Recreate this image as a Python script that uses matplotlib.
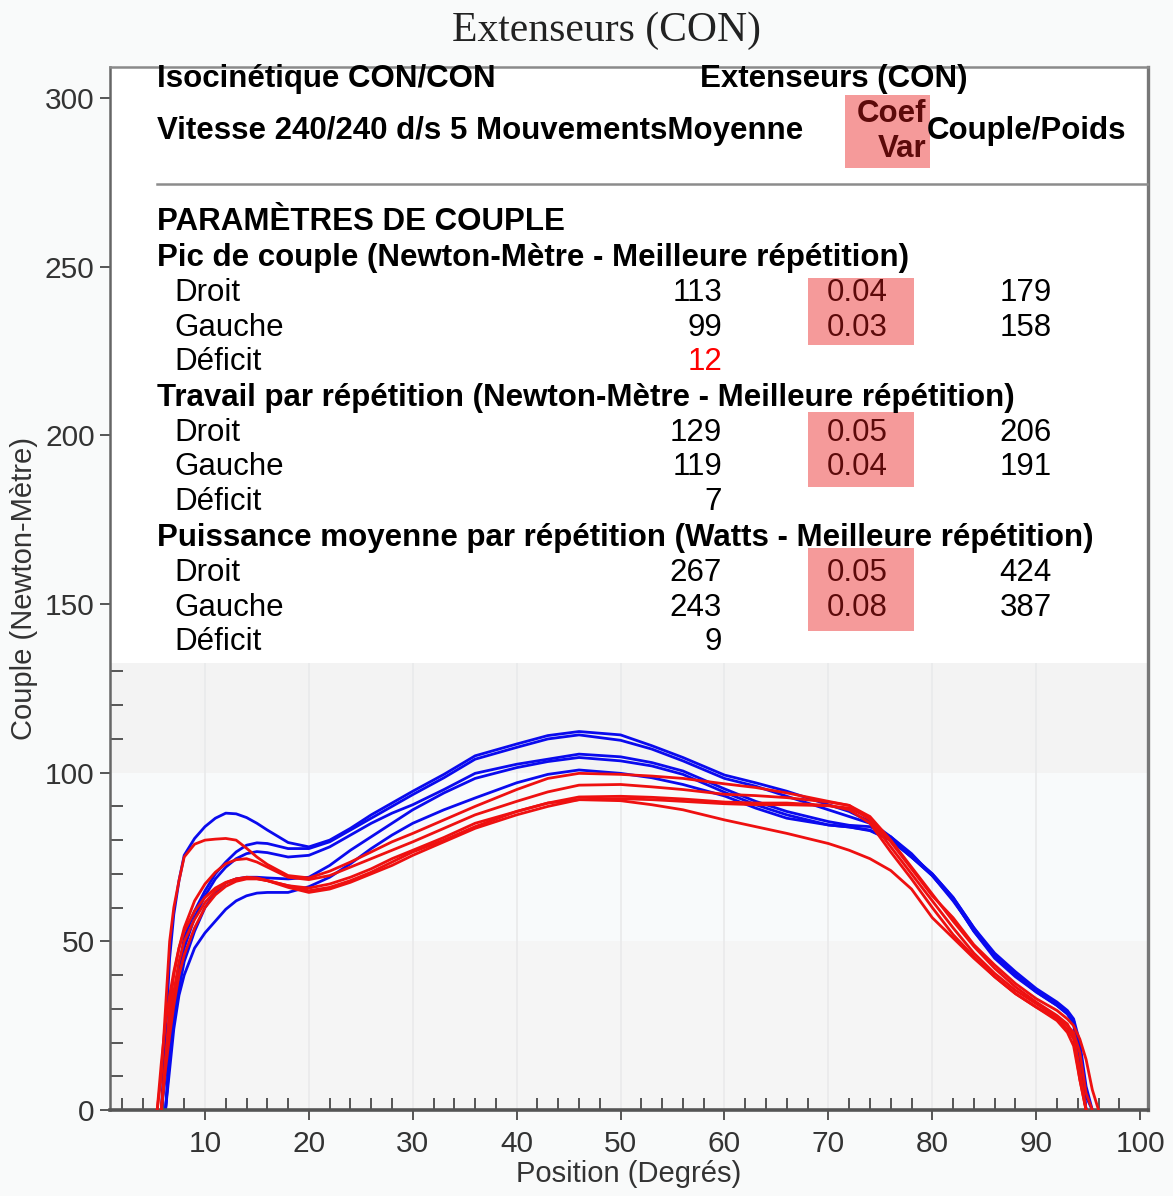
import numpy as np
import matplotlib.pyplot as plt
from matplotlib.patches import Rectangle

plt.rcParams['font.family'] = ['Liberation Sans', 'DejaVu Sans']

nan = np.nan

# === Courbes (Couple en N.m selon la position en degrés) ===
POSITION = [5.4, 5.8, 6.2, 6.6, 7, 7.5, 8, 9, 10, 11, 12, 13, 14, 15, 16, 18, 20, 22, 24, 26,
            28, 30, 33, 36, 40, 43, 46, 50, 53, 56, 60, 63, 66, 70, 72, 74, 76, 78, 80, 82,
            84, 86, 88, 90, 92, 93, 93.6, 94.2, 94.8, 95.4, 96]

# Droit (bleu)
droit_rep1 = [nan, 0, 22, 45, 58, 68, 75.5, 80.5, 84, 86.5, 88, 87.8, 86.7, 85, 83, 79.3, 78, 80, 83.5, 87.5,
              91, 94.5, 99.5, 105, 108.5, 111, 112.2, 111.2, 108, 104.5, 99.3, 97, 94.5, 90.5, 88.5, 85.5, 81, 75.5, 70, 63,
              54, 45.5, 40, 35.5, 31.5, 29, 26.5, 14, 0, nan, nan]
droit_rep2 = [nan, 0, 10, 20, 32, 42, 51, 59, 65, 70, 73.5, 76.5, 78.5, 79.2, 79, 77.5, 77.5, 79.5, 83, 86.5,
              90, 93.5, 98.5, 104, 107.5, 110, 111.2, 109.6, 107, 103.5, 98.3, 96, 93, 89, 87, 85, 80.5, 75, 69.5, 62.5,
              53, 45, 39.5, 35, 31, 28.5, 26, 18, 4, 0, nan]
droit_rep3 = [nan, nan, 0, 18, 30, 40, 48, 57, 63.5, 68.5, 72, 74.5, 76, 76.6, 76.3, 75, 75.5, 78, 81.5, 85,
              88, 90.5, 95, 99.8, 102.5, 104, 105.5, 104.7, 103, 100.5, 95.2, 91.5, 88.5, 85.5, 84.4, 84, 81, 76, 69.5, 62,
              53.5, 46, 40, 35.5, 31.5, 29, 26.5, 16, 0, nan, nan]
droit_rep4 = [nan, nan, 0, 15, 26, 36, 44, 53, 60, 64.5, 67.3, 68.5, 69, 69, 68.8, 68.5, 69, 72.5, 77, 81,
              85, 89, 94, 98.3, 101.5, 103.3, 104.5, 103.5, 102, 99.5, 94.2, 90.5, 87.5, 84.5, 83.9, 83, 80, 75, 69.5, 62.5,
              53, 45.5, 40, 35, 31, 28.5, 25.5, 12, 0, nan, nan]
droit_rep5 = [nan, nan, 0, 12, 24, 34, 40, 48, 52.5, 56, 59.5, 62, 63.5, 64.3, 64.5, 64.5, 66.2, 69, 73, 77.5,
              81.5, 85, 89, 92.5, 97, 99.5, 100.8, 99.8, 98.5, 96.5, 93.1, 89.5, 86.5, 84.5, 83.9, 82.8, 80, 75, 70, 63,
              54, 46.5, 41, 36, 32, 29.5, 27, 20, 7, 0, nan]

# Gauche (rouge)
gauche_rep1 = [0, 10, 30, 50, 60, 68, 75, 78.8, 80, 80.3, 80.5, 80, 77.6, 75, 72.8, 69.5, 68.8, 70.8, 73.5, 76.5,
               79.5, 82, 86, 90, 95, 98.3, 99.8, 99.5, 99, 98.3, 96.7, 95.6, 94, 91.5, 90.3, 87, 80, 72, 64, 56,
               48.5, 42, 36.5, 32, 28, 25.5, 22, 12, 0, nan, nan]
gauche_rep2 = [nan, 0, 15, 30, 40, 48, 54, 62, 67, 70.5, 73, 74.2, 74.5, 73.5, 72, 69, 68.3, 69.5, 72, 74.5,
               77, 79.5, 83.5, 87.5, 91.5, 94.3, 96.3, 96.5, 95.8, 95, 93.6, 93.2, 92.6, 91.3, 90.3, 86, 78, 70, 62, 54,
               46.5, 40.5, 35.5, 31.5, 27.5, 25, 23, 17, 5, 0, nan]
gauche_rep3 = [nan, 0, 14, 26, 35, 44, 50, 56.5, 61.5, 65, 67.3, 68.5, 69, 68.8, 68, 66.5, 65, 66, 68, 70.5,
               73.5, 76.5, 80, 84, 88.5, 91, 92.8, 93, 92.7, 92.2, 91.3, 91, 91, 90.3, 89, 85, 76.5, 68.5, 60, 52,
               45.5, 39.5, 34.5, 30.5, 26.5, 23, 19, 9, 0, nan, nan]
gauche_rep4 = [nan, 0, 12, 22, 31, 40, 46, 54, 60, 63.8, 66.3, 67.8, 68.5, 68.5, 68, 66, 64.5, 65.5, 67.5, 70,
               72.5, 75.5, 79.5, 83.5, 87.5, 90, 92, 92.3, 92, 91.5, 90.8, 90.5, 90.5, 90.2, 89.5, 86.5, 79.5, 71.5, 63.5, 57,
               49, 43, 37.5, 33, 29.5, 27, 25, 21, 15, 6, 0]
gauche_rep5 = [0, 14, 26, 34, 41, 48, 53, 59, 63, 65.8, 67.5, 68.5, 68.8, 68.6, 68, 66.5, 65.8, 67, 69, 71.5,
               74.5, 77, 80.8, 85, 88.5, 91, 92, 91.7, 90.5, 89, 86, 84, 82, 79, 77, 74.5, 71, 65.5, 57, 51,
               45, 39.5, 34.5, 30.5, 27, 24, 21, 9, 0, nan, nan]

DROIT_REPS = [droit_rep1, droit_rep2, droit_rep3, droit_rep4, droit_rep5]
GAUCHE_REPS = [gauche_rep1, gauche_rep2, gauche_rep3, gauche_rep4, gauche_rep5]

# === Tableau ===
SECTIONS = ["Pic de couple (Newton-Mètre - Meilleure répétition)",
            "Travail par répétition (Newton-Mètre - Meilleure répétition)",
            "Puissance moyenne par répétition (Watts - Meilleure répétition)"]
ROW_LABELS = ["Droit", "Gauche", "Déficit"]
MOYENNE = [[113, 99, 12], [129, 119, 7], [267, 243, 9]]
COEF_VAR = [["0.04", "0.03"], ["0.05", "0.04"], ["0.05", "0.08"]]
COUPLE_POIDS = [[179, 158], [206, 191], [424, 387]]

# === Mise en page (pixels de l'image) ===
W, H = 1173, 1196
TABLE_BOTTOM = 132.6
FS = 22.5
HIGHLIGHT = '#f59a9a'
DARK_RED = '#5c0a0a'


def px(x, y):
    return x / W, 1 - y / H


fig = plt.figure(figsize=(W / 100, H / 100), dpi=100, facecolor='#f9fafa')
ax = fig.add_axes([110 / W, 1 - 1110 / H, (1148 - 110) / W, (1110 - 67) / H])
ax.set_facecolor('white')
ax.set_xlim(0.86, 100.76)
ax.set_ylim(0, 309.2)

# fond en bandes + grille verticale sous le tableau
ax.axhspan(0, 50, color='#f5f5f5', lw=0, zorder=0)
ax.axhspan(50, 100, color='#f8fafb', lw=0, zorder=0)
ax.axhspan(100, TABLE_BOTTOM, color='#f3f3f3', lw=0, zorder=0)
ax.vlines(range(10, 100, 10), 0, TABLE_BOTTOM, color='#e9eaeb', lw=1.2, zorder=0.5)

for rep in DROIT_REPS:
    ax.plot(POSITION, rep, color='#0a0aee', lw=2.0, solid_joinstyle='round', zorder=2)
for rep in GAUCHE_REPS:
    ax.plot(POSITION, rep, color='#ee1010', lw=2.0, solid_joinstyle='round', zorder=3)

# axes
ax.set_xticks(range(10, 101, 10))
ax.set_yticks(range(0, 301, 50))
ax.set_xticks([v for v in range(2, 100, 2) if v % 10], minor=True)
ax.set_yticks([v for v in range(10, 131, 10) if v % 50], minor=True)
ax.tick_params(axis='both', which='major', direction='out', length=7.5, width=1.4,
               color='#555555', labelsize=21.5, labelcolor='#333333')
ax.tick_params(axis='both', which='minor', direction='in', length=9, width=1.4, color='#555555')
ax.tick_params(axis='x', which='major', pad=7)
ax.spines['bottom'].set_linewidth(2.6)
ax.spines['bottom'].set_color('#555555')
ax.spines['left'].set_linewidth(1.8)
ax.spines['left'].set_color('#666666')
ax.spines['top'].set_linewidth(1.8)
ax.spines['top'].set_color('#8a8a8a')
ax.spines['right'].set_linewidth(2.4)
ax.spines['right'].set_color('#777777')
ax.set_xlabel("Position (Degrés)", fontsize=21, color='#333333', labelpad=1)
ax.set_ylabel("Couple (Newton-Mètre)", fontsize=21, color='#333333', labelpad=5)

fig.text(*px(607, 31), "Extenseurs (CON)", family=['Liberation Serif', 'DejaVu Serif'],
         fontsize=30, color='#222222', ha='center', va='center')

# === En-tête du tableau ===
bold = dict(fontsize=FS, fontweight='bold', color='black', va='center')
fig.text(*px(157, 79), "Isocinétique CON/CON", ha='left', **bold)
fig.text(*px(700, 79), "Extenseurs (CON)", ha='left', **bold)
fig.text(*px(157, 131), "Vitesse 240/240 d/s 5 MouvementsMoyenne", ha='left', **bold)
fig.patches.append(Rectangle(px(845, 168), 85 / W, 73 / H, transform=fig.transFigure,
                             facecolor=HIGHLIGHT, edgecolor='none', zorder=1))
fig.text(*px(926, 114), "Coef", ha='right', fontsize=FS, fontweight='bold', color=DARK_RED, va='center')
fig.text(*px(926, 149), "Var", ha='right', fontsize=FS, fontweight='bold', color=DARK_RED, va='center')
fig.text(*px(927, 131), "Couple/Poids", ha='left', **bold)
fig.add_artist(plt.Line2D([157 / W, 1147 / W], [1 - 184 / H] * 2, transform=fig.transFigure,
                          color='#8c8c8c', lw=1.8))
fig.text(*px(157, 222), "PARAMÈTRES DE COUPLE", ha='left', **bold)

# === Sections ===
box_tops = [278, 412, 548]
box_bottoms = [345, 487, 631]
for i, title in enumerate(SECTIONS):
    y0 = 258 + 140 * i
    fig.text(*px(157, y0), title, ha='left', **bold)
    fig.patches.append(Rectangle(px(808, box_bottoms[i]), 106 / W, (box_bottoms[i] - box_tops[i]) / H,
                                 transform=fig.transFigure, facecolor=HIGHLIGHT, edgecolor='none', zorder=1))
    for j, label in enumerate(ROW_LABELS):
        yr = y0 + 35 + 34.5 * j
        fig.text(*px(174, yr), label, ha='left', va='center', fontsize=FS, color='black')
        val_color = 'red' if (i == 0 and j == 2) else 'black'
        fig.text(*px(722, yr), str(MOYENNE[i][j]), ha='right', va='center', fontsize=FS, color=val_color)
        if j < 2:
            fig.text(*px(857, yr), COEF_VAR[i][j], ha='center', va='center', fontsize=FS, color=DARK_RED)
            fig.text(*px(1052, yr), str(COUPLE_POIDS[i][j]), ha='right', va='center', fontsize=FS, color='black')

fig.savefig("out.png", dpi=100, facecolor=fig.get_facecolor())
